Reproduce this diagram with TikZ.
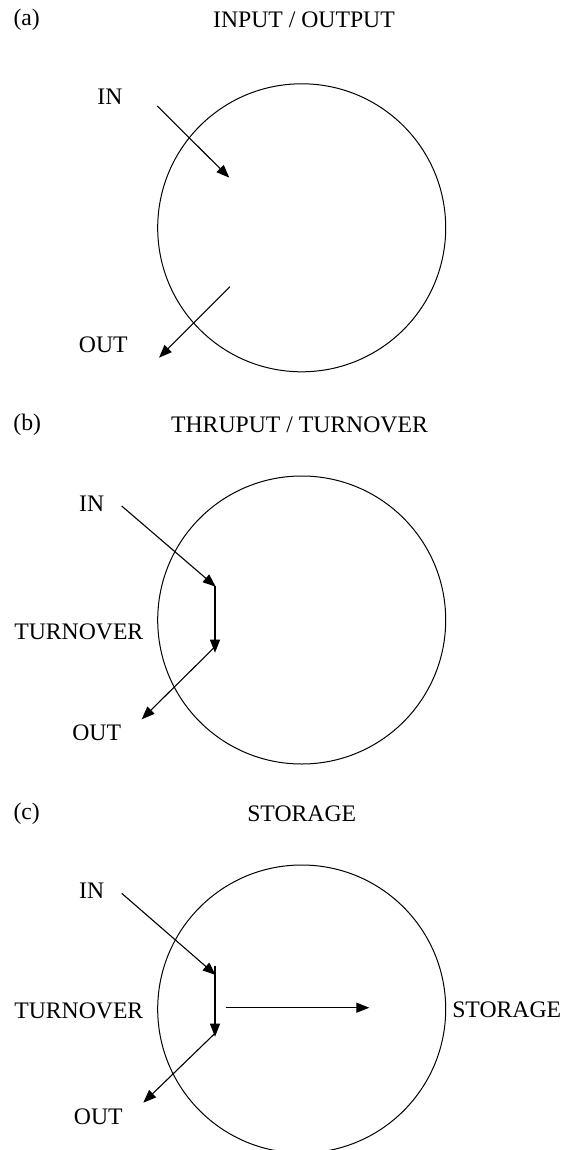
\documentclass[tikz,border=0pt]{standalone}
\usepackage{fontspec}
\setmainfont{Liberation Serif}
\usetikzlibrary{arrows.meta}
\begin{document}
\begin{tikzpicture}[x=1pt,y=-1pt,
  lbl/.style={inner sep=0pt, font=\fontsize{23.7}{28}\selectfont},
  ring/.style={draw, circle, line width=1pt, minimum size=288pt, inner sep=0pt},
  flow/.style={line width=1.1pt, -{Triangle[length=13pt,width=10pt]}}]
\useasboundingbox (0,0) rectangle (572,1150);
\fill[white] (0,0) rectangle (572,1150);
% (a)
\node[lbl] (pa) at (26.7,20) {(a)};
\node[lbl] (ta) at (304,20) {INPUT / OUTPUT};
\node[ring] (ca) at (301.7,227.8) {};
\node[lbl] (ina) at (110,96.7) {IN};
\node[lbl] (outa) at (103.3,345) {OUT};
\coordinate (ina1) at (157.3,106);
\coordinate (ina2) at (229.3,177.7);
\coordinate (outa1) at (230,286.7);
\coordinate (outa2) at (159,357.7);
\draw[flow] (ina1) -- (ina2);
\draw[flow] (outa1) -- (outa2);
% (b)
\node[lbl] (pb) at (27.3,425) {(b)};
\node[lbl] (tb) at (299.5,425) {THRUPUT / TURNOVER};
\node[ring] (cb) at (301.7,620) {};
\node[lbl] (inb) at (91.7,503.3) {IN};
\node[lbl] (outb) at (96.7,732.3) {OUT};
\node[lbl] (turnb) at (78.8,631.7) {TURNOVER};
\coordinate (inb1) at (121.7,506);
\coordinate (inb2) at (215.7,586.7);
\coordinate (vb1) at (215,586);
\coordinate (vb2) at (215,652.7);
\coordinate (outb1) at (215,646.7);
\coordinate (outb2) at (141.7,719.3);
\draw[flow] (inb1) -- (inb2);
\draw[flow] (vb1) -- (vb2);
\draw[flow] (outb1) -- (outb2);
% (c)
\node[lbl] (pc) at (26.7,813.3) {(c)};
\node[lbl] (tc) at (301.7,813.3) {STORAGE};
\node[ring] (cc) at (301.7,1009) {};
\node[lbl] (inc) at (91.7,890.7) {IN};
\node[lbl] (outc) at (98.3,1116.7) {OUT};
\node[lbl] (turnc) at (78.8,1011) {TURNOVER};
\node[lbl] (storc) at (506.7,1010) {STORAGE};
\coordinate (inc1) at (121.7,893.3);
\coordinate (inc2) at (215.7,975);
\coordinate (vc1) at (215,966);
\coordinate (vc2) at (215,1036.7);
\coordinate (outc1) at (215,1033.3);
\coordinate (outc2) at (143.3,1102.7);
\coordinate (hc1) at (225.7,1007.7);
\coordinate (hc2) at (369.3,1007.7);
\draw[flow] (inc1) -- (inc2);
\draw[flow] (vc1) -- (vc2);
\draw[flow] (outc1) -- (outc2);
\draw[flow] (hc1) -- (hc2);
\end{tikzpicture}
\end{document}
